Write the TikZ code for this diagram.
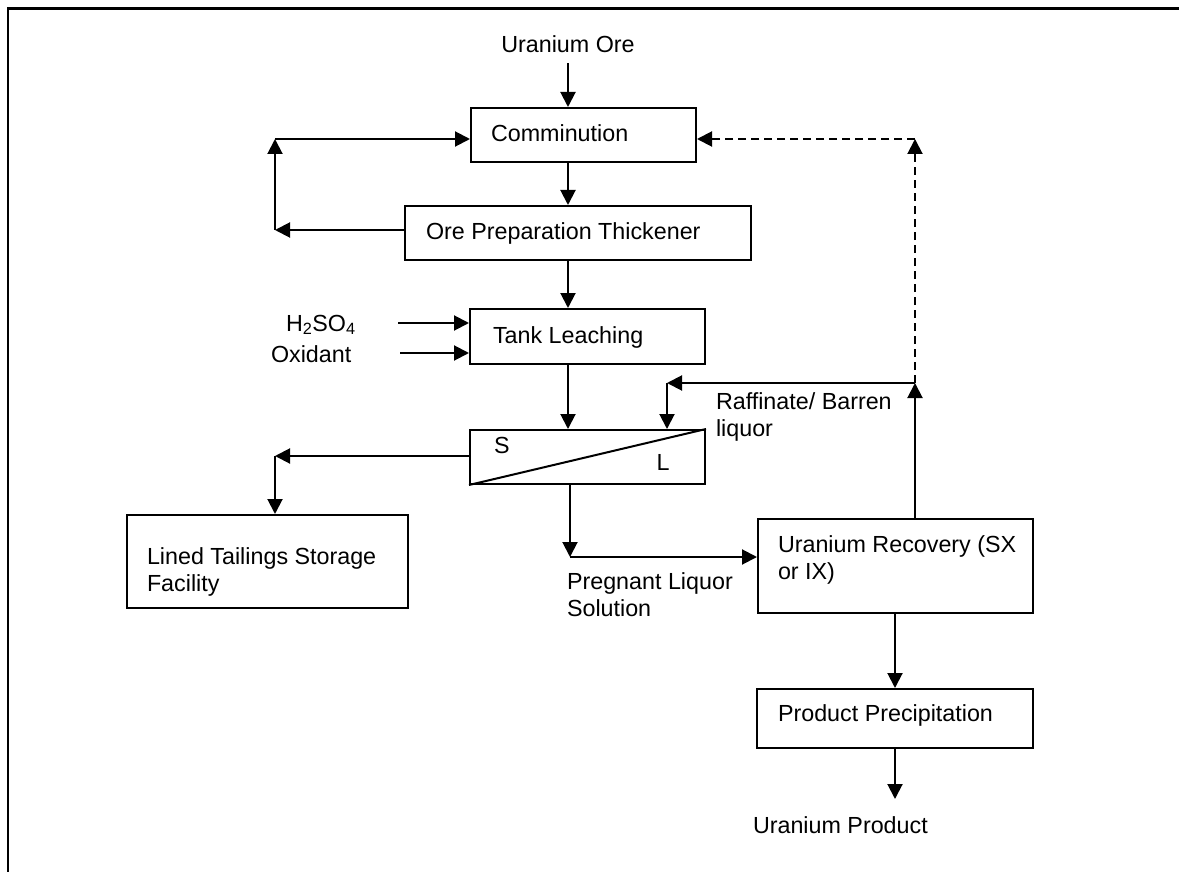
\documentclass[tikz,border=0pt]{standalone}
\usepackage{fontspec}
\setmainfont{Liberation Sans}
\usetikzlibrary{arrows.meta}
\begin{document}
\begin{tikzpicture}[x=1pt,y=-1pt,line width=2pt,
  box/.style={draw,line width=2pt,rectangle,inner sep=0pt,anchor=north west},
  lbl/.style={inner sep=0pt,font=\fontsize{23.3}{26.5}\selectfont},
  arr/.style={-{Triangle[length=15pt,width=15pt]}},
  dsh/.style={dash pattern=on 8pt off 5pt}]
\useasboundingbox (0,0) rectangle (1179,872);
\draw[line width=2.6pt] (8,872) -- (8,8.5) -- (1179,8.5);
% boxes
\node[box,minimum width=225pt,minimum height=54pt] (comm) at (470,107) {};
\node[box,minimum width=346pt,minimum height=54pt] (prep) at (404,205) {};
\node[box,minimum width=235pt,minimum height=55pt] (tank) at (469,308) {};
\node[box,minimum width=235pt,minimum height=54pt] (sep) at (469,429) {};
\node[box,minimum width=281pt,minimum height=93pt] (tail) at (126,514) {};
\node[box,minimum width=275pt,minimum height=94pt] (urec) at (757,518) {};
\node[box,minimum width=276pt,minimum height=59pt] (prod) at (756,688) {};
% labels
\node[lbl,anchor=base] (ore) at (568,53) {Uranium Ore};
\node[lbl,anchor=base west] (tcomm) at (490,142) {Comminution};
\node[lbl,anchor=base west] (tprep) at (425,240) {Ore Preparation Thickener};
\node[lbl,anchor=base west] (ttank) at (492,343) {Tank Leaching};
\node[lbl,anchor=base west] (acid) at (285,331) {H\textsubscript{2}SO\textsubscript{4}};
\node[lbl,anchor=base west] (oxid) at (270,362) {Oxidant};
\node[lbl] (tS) at (502,445) {S};
\node[lbl] (tL) at (663,462) {L};
\node[lbl,anchor=north west,align=left] (raff) at (715,392) {Raffinate/ Barren\\liquor};
\node[lbl,anchor=north west,align=left] (preg) at (566,572) {Pregnant Liquor\\Solution};
\node[lbl,anchor=north west,align=left] (turec) at (777,535) {Uranium Recovery (SX\\or IX)};
\node[lbl,anchor=north west,align=left] (ttail) at (146,547) {Lined Tailings Storage\\Facility};
\node[lbl,anchor=base west] (tprod) at (777,721) {Product Precipitation};
\node[lbl,anchor=base west] (upro) at (752,833) {Uranium Product};
% helper coordinates
\coordinate (cx) at (568,0);
\coordinate (lt) at (275,139);
\coordinate (lb) at (275,230);
\coordinate (ra) at (915,383);
\coordinate (rb) at (667,383);
\coordinate (rt) at (915,139);
\coordinate (tl) at (275,456);
\coordinate (pc) at (570,557);
\coordinate (dx) at (895,0);
\coordinate (aa) at (398,323);
\coordinate (ab) at (400,353);
% connectors
\draw[arr] ([yshift=-9pt]ore.south) -- (comm.north -| cx);
\draw[arr] (comm.south -| cx) -- (prep.north -| cx);
\draw[arr] (prep.west |- lb) -- (lb);
\draw[arr] (lb) -- (lt);
\draw[arr] (lt) -- (comm.west |- lt);
\draw[arr] (prep.south -| cx) -- (tank.north -| cx);
\draw[arr] (aa) -- (tank.west |- aa);
\draw[arr] (ab) -- (tank.west |- ab);
\draw[arr] (tank.south -| cx) -- (sep.north -| cx);
\draw (sep.south west) -- (sep.north east);
\draw[arr] (urec.north -| ra) -- (ra);
\draw[arr] (ra) -- (rb);
\draw[arr] (rb) -- (sep.north -| rb);
\draw[arr,dsh] (ra) -- (rt);
\draw[arr,dsh] (rt) -- (comm.east |- rt);
\draw[arr] (sep.west |- tl) -- (tl);
\draw[arr] (tl) -- (tail.north -| tl);
\draw[arr] (sep.south -| pc) -- (pc);
\draw[arr] (pc) -- (urec.west |- pc);
\draw[arr] (urec.south -| dx) -- (prod.north -| dx);
\draw[arr] (prod.south -| dx) -- ([yshift=-50pt]prod.south -| dx);
\end{tikzpicture}
\end{document}
